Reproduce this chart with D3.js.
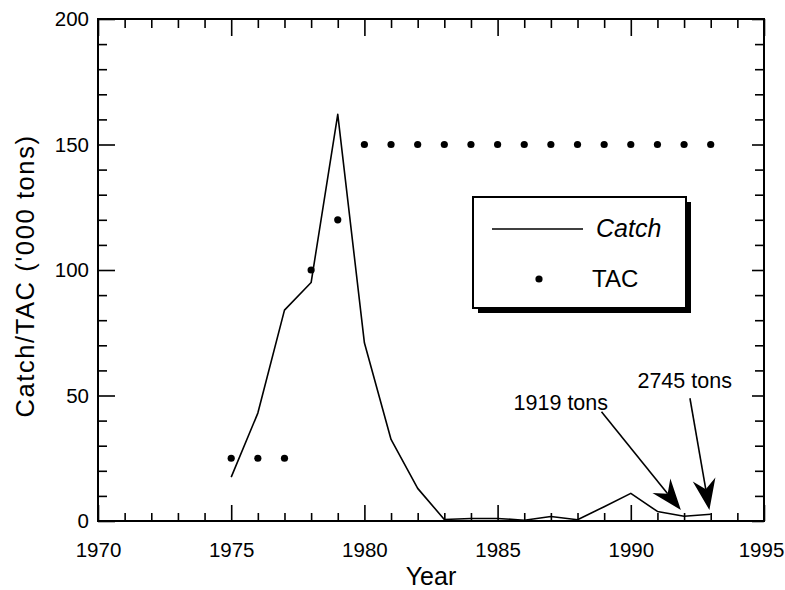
<!DOCTYPE html>
<html>
<head>
<meta charset="utf-8">
<script src="https://cdn.jsdelivr.net/npm/d3@7"></script>
<style>
  html, body { margin: 0; padding: 0; background: #fff; }
  svg { display: block; font-family: "Liberation Sans", Arial, Helvetica, sans-serif; }
</style>
</head>
<body>
<svg id="chart" width="785" height="590"></svg>
<script>
// ---- data ----
const catchYears = [1975,1976,1977,1978,1979,1980,1981,1982,1983,1984,1985,1986,1987,1988,1989,1990,1991,1992,1993];
const catchValues = [17.5,43,84,95,162,71,32.5,13,0.6,1,1,0.3,1.8,0.5,5.7,11,3.8,1.9,2.7];
const tacYears = [1975,1976,1977,1978,1979,1980,1981,1982,1983,1984,1985,1986,1987,1988,1989,1990,1991,1992,1993];
const tacValues = [25,25,25,100,120,150,150,150,150,150,150,150,150,150,150,150,150,150,150];
const xTicks = [1970,1975,1980,1985,1990,1995];
const yTicks = [0,50,100,150,200];
const seriesNames = ["Catch","TAC"];
const axisTitles = {x: "Year", y: "Catch/TAC ('000 tons)"};
// annotations: label position and arrow (from -> tip) in data units
const annoLabels = ["1919 tons","2745 tons"];
const annoTextYear = [1985.6, 1990.25];
const annoTextValue = [44.2, 53];
const annoFromYear = [1988.9, 1992.22];
const annoFromValue = [43.5, 48.9];
const annoTipYear = [1991.88, 1992.95];
const annoTipValue = [4.4, 4.4];

// ---- layout ----
const svg = d3.select("#chart");
const L = 98, R = 764, T = 19, B = 521;
const x = d3.scaleLinear().domain([1970,1995]).range([L,R]);
const y = d3.scaleLinear().domain([0,200]).range([B,T]);
const font = '"Liberation Sans", Arial, Helvetica, sans-serif';

// minor ticks
const minorX = d3.range(1970,1996,1).filter(v => v % 5 !== 0);
const minorY = d3.range(0,201,10).filter(v => v % 50 !== 0);

function styleAxis(g){
  g.select(".domain").remove();
  g.selectAll(".tick line").attr("stroke","#000").attr("stroke-width",1.6);
  g.selectAll("text").attr("fill","#000").style("font-family",font);
}

// bottom
const bottomAxis = svg.append("g").attr("transform",`translate(0,${B})`)
  .call(d3.axisBottom(x).tickValues(xTicks).tickFormat(d3.format("d")).tickSizeInner(-16).tickSizeOuter(0).tickPadding(21))
  .call(styleAxis);
bottomAxis.selectAll("text").style("font-size","20.5px");
bottomAxis.selectAll(".tick").filter(d => d === 1995).select("text").attr("dx", -3);
svg.append("g").attr("transform",`translate(0,${B})`)
  .call(d3.axisBottom(x).tickValues(minorX).tickFormat("").tickSizeInner(-8).tickSizeOuter(0))
  .call(styleAxis);
// top
svg.append("g").attr("transform",`translate(0,${T})`)
  .call(d3.axisTop(x).tickValues(xTicks).tickFormat("").tickSizeInner(-17).tickSizeOuter(0))
  .call(styleAxis);
svg.append("g").attr("transform",`translate(0,${T})`)
  .call(d3.axisTop(x).tickValues(minorX).tickFormat("").tickSizeInner(-9).tickSizeOuter(0))
  .call(styleAxis);
// left
svg.append("g").attr("transform",`translate(${L},0)`)
  .call(d3.axisLeft(y).tickValues(yTicks).tickFormat(d3.format("d")).tickSizeInner(-17).tickSizeOuter(0).tickPadding(9))
  .call(styleAxis).selectAll("text").style("font-size","20.5px");
svg.append("g").attr("transform",`translate(${L},0)`)
  .call(d3.axisLeft(y).tickValues(minorY).tickFormat("").tickSizeInner(-9).tickSizeOuter(0))
  .call(styleAxis);
// right
svg.append("g").attr("transform",`translate(${R},0)`)
  .call(d3.axisRight(y).tickValues(yTicks).tickFormat("").tickSizeInner(-12).tickSizeOuter(0))
  .call(styleAxis);
svg.append("g").attr("transform",`translate(${R},0)`)
  .call(d3.axisRight(y).tickValues(minorY).tickFormat("").tickSizeInner(-9).tickSizeOuter(0))
  .call(styleAxis);

// frame
svg.append("rect").attr("x",L).attr("y",T).attr("width",R-L).attr("height",B-T)
  .attr("fill","none").attr("stroke","#000").attr("stroke-width",2);

// axis titles
svg.append("text").attr("x",(L+R)/2).attr("y",585).attr("text-anchor","middle")
  .style("font-size","25px").text(axisTitles.x);
svg.append("text").attr("transform",`translate(34,${(T+B)/2+6}) rotate(-90)`)
  .attr("text-anchor","middle").style("font-size","25.5px").style("letter-spacing","1.6px")
  .text(axisTitles.y);

// catch line
const catchData = catchYears.map((yr,i)=>({yr, v:catchValues[i]}));
svg.append("path").datum(catchData)
  .attr("fill","none").attr("stroke","#000").attr("stroke-width",1.6).attr("stroke-linejoin","round")
  .attr("d", d3.line().x(d=>x(d.yr)).y(d=>y(d.v)));

// TAC dots
const tacData = tacYears.map((yr,i)=>({yr, v:tacValues[i]}));
svg.selectAll("circle.tac").data(tacData).join("circle").attr("class","tac")
  .attr("cx",d=>x(d.yr)).attr("cy",d=>y(d.v)).attr("r",3.6).attr("fill","#000");

// annotations
const annos = annoLabels.map((t,i)=>({t, tx:annoTextYear[i], ty:annoTextValue[i],
  fx:annoFromYear[i], fy:annoFromValue[i], kx:annoTipYear[i], ky:annoTipValue[i]}));
annos.forEach(a=>{
  svg.append("text").attr("x",x(a.tx)).attr("y",y(a.ty)).style("font-size","21.5px").text(a.t);
  const x0=x(a.fx), y0=y(a.fy), x1=x(a.kx), y1=y(a.ky);
  const dx=x1-x0, dy=y1-y0, len=Math.hypot(dx,dy), ux=dx/len, uy=dy/len, nx=-uy, ny=ux;
  const headL=31, headW=11.5, notch=21;
  const nxp = x1-ux*notch, nyp = y1-uy*notch;
  svg.append("line").attr("x1",x0).attr("y1",y0).attr("x2",nxp).attr("y2",nyp)
    .attr("stroke","#000").attr("stroke-width",1.6);
  const pts=[[x1,y1],[x1-ux*headL+nx*headW, y1-uy*headL+ny*headW],[nxp,nyp],[x1-ux*headL-nx*headW, y1-uy*headL-ny*headW]];
  svg.append("path").attr("d","M"+pts.map(p=>p.join(",")).join("L")+"Z").attr("fill","#000");
});

// legend
const lg = svg.append("g");
const bx=473, by=197, bw=213, bh=111, sh=5;
lg.append("rect").attr("x",bx+sh).attr("y",by+sh).attr("width",bw).attr("height",bh).attr("fill","#000");
lg.append("rect").attr("x",bx).attr("y",by).attr("width",bw).attr("height",bh)
  .attr("fill","#fff").attr("stroke","#000").attr("stroke-width",2);
lg.append("line").attr("x1",492).attr("x2",583).attr("y1",229).attr("y2",229)
  .attr("stroke","#000").attr("stroke-width",1.6);
lg.append("text").attr("x",596).attr("y",237).style("font-size","25px").style("font-style","italic").text(seriesNames[0]);
lg.append("circle").attr("cx",539).attr("cy",279).attr("r",3.6).attr("fill","#000");
lg.append("text").attr("x",592).attr("y",287).style("font-size","24px").text(seriesNames[1]);
</script>
</body>
</html>
